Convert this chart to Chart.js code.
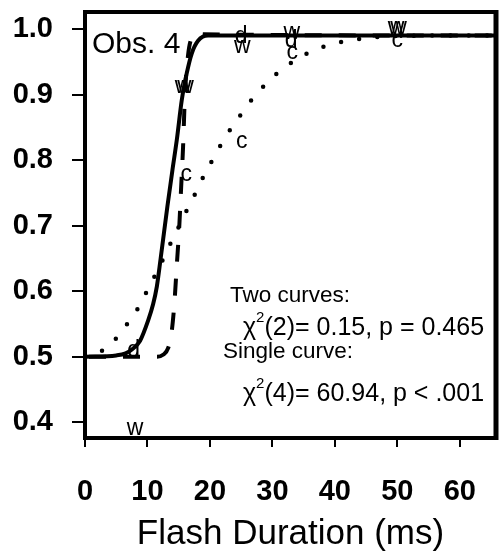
<!DOCTYPE html>
<html>
<head>
<meta charset="utf-8">
<script src="https://cdn.jsdelivr.net/npm/chart.js@4.4.0/dist/chart.umd.min.js"></script>
<style>
  html, body { margin: 0; padding: 0; background: #fff; }
  #wrap { width: 500px; height: 558px; }
</style>
</head>
<body>
<div id="wrap"><canvas id="obsChart"></canvas></div>
<script>
// tick values
const xTicks = [0, 10, 20, 30, 40, 50, 60];
const yTicks = [0.4, 0.5, 0.6, 0.7, 0.8, 0.9, 1.0];

// fitted curves as [ms, proportion]
const solidCurve = [[0, 0.500], [5, 0.502], [6.5, 0.505], [7.5, 0.511], [8.8, 0.524], [10.1, 0.555],
  [10.9, 0.580], [11.5, 0.607], [12.1, 0.649], [13.2, 0.730], [14.0, 0.785], [14.7, 0.831],
  [15.5, 0.892], [16.3, 0.933], [17.1, 0.963], [18.1, 0.982], [19.7, 0.990], [65.8, 0.990]];
const dashedCurve = [[0, 0.500], [11.5, 0.500], [12.5, 0.503], [13.3, 0.513], [13.9, 0.540],
  [14.3, 0.580], [14.7, 0.640], [15.1, 0.700], [15.4, 0.760], [15.7, 0.820], [16.0, 0.900],
  [16.5, 0.960], [17.0, 0.985], [17.8, 0.993], [19, 0.992], [65.8, 0.990]];
const dottedCurve = [[0, 0.500], [1.3, 0.502], [2.7, 0.509], [4.9, 0.527], [6.6, 0.548], [8.3, 0.571],
  [9.65, 0.595], [11.0, 0.620], [12.2, 0.643], [13.5, 0.669], [14.8, 0.694], [16.0, 0.718],
  [17.3, 0.742], [18.6, 0.768], [19.95, 0.792], [21.3, 0.816], [22.8, 0.840], [24.4, 0.862],
  [26.1, 0.885], [27.95, 0.906], [30.0, 0.926], [32.2, 0.943], [34.6, 0.958], [37.3, 0.970],
  [40.0, 0.978], [42.8, 0.983], [45.7, 0.987], [48.5, 0.989], [55, 0.990], [65.8, 0.990]];

// observed points, plotted as letters
const wPoints = [[8.0, 0.390], [15.7, 0.911], [16.1, 0.911], [25.2, 0.973], [33.1, 0.994], [49.8, 1.002], [50.2, 1.002]];
const cPoints = [[16.2, 0.778], [25.1, 0.827], [33.2, 0.964], [50.0, 0.981]];
const dPoints = [[7.8, 0.508], [25.0, 0.988], [33.0, 0.981]];

const panelLabel = 'Obs. 4';
const statLines = ['Two curves:', '(2)= 0.15, p = 0.465', 'Single curve:', '(4)= 60.94, p < .001'];

const toXY = arr => arr.map(p => ({ x: p[0], y: p[1] }));

const decorPlugin = {
    id: 'decor',
    afterDatasetsDraw(chart) {
        const ctx = chart.ctx;
        const xs = chart.scales.x, ys = chart.scales.y;
        const a = chart.chartArea;
        ctx.save();
        ctx.fillStyle = '#000';

        // letter markers
        ctx.font = '23px "Liberation Sans", Arial, sans-serif';
        ctx.textAlign = 'center';
        ctx.textBaseline = 'alphabetic';
        const groups = [['w', wPoints], ['c', cPoints], ['d', dPoints]];
        groups.forEach(g => {
            g[1].forEach(p => {
                ctx.fillText(g[0], xs.getPixelForValue(p[0]), ys.getPixelForValue(p[1]) + 6);
            });
        });

        // panel label
        ctx.textAlign = 'left';
        ctx.font = '30px "Liberation Sans", Arial, sans-serif';
        ctx.fillText(panelLabel, a.left + 7, a.top + 41);

        // fit statistics
        ctx.font = '22.5px "Liberation Sans", Arial, sans-serif';
        ctx.fillText(statLines[0], 230, 302);
        ctx.fillText(statLines[2], 223, 358);
        const chi = (txt, x, y) => {
            ctx.font = '25px "Liberation Sans", Arial, sans-serif';
            ctx.fillText('\u03c7', x, y);
            const w = ctx.measureText('\u03c7').width;
            ctx.font = '15px "Liberation Sans", Arial, sans-serif';
            ctx.fillText('2', x + w, y - 13);
            const w2 = ctx.measureText('2').width;
            ctx.font = '25px "Liberation Sans", Arial, sans-serif';
            ctx.fillText(txt, x + w + w2, y);
        };
        chi(statLines[1], 243, 335);
        chi(statLines[3], 243, 401);

        // frame
        ctx.strokeStyle = '#000';
        ctx.lineWidth = 4;
        ctx.strokeRect(a.left, a.top, a.right - a.left, a.bottom - a.top);
        ctx.lineWidth = 5;
        ctx.beginPath();
        ctx.moveTo(a.right, a.top - 2);
        ctx.lineTo(a.right, a.bottom + 2);
        ctx.stroke();
        ctx.restore();
    }
};

document.addEventListener('DOMContentLoaded', () => {
    const ctx = document.getElementById('obsChart').getContext('2d');
    new Chart(ctx, {
        type: 'scatter',
        data: {
            datasets: [
                {
                    label: 'solid', data: toXY(solidCurve), showLine: true, pointRadius: 0,
                    borderColor: '#000', borderWidth: 4, cubicInterpolationMode: 'monotone'
                },
                {
                    label: 'dashed', data: toXY(dashedCurve), showLine: true, pointRadius: 0,
                    borderColor: '#000', borderWidth: 4, borderDash: [17, 17], borderDashOffset: 30,
                    cubicInterpolationMode: 'monotone'
                },
                {
                    label: 'dotted', data: toXY(dottedCurve), showLine: true, pointRadius: 0,
                    borderColor: '#000', borderWidth: 4.5, borderDash: [0, 18.3], borderCapStyle: 'round',
                    cubicInterpolationMode: 'monotone'
                }
            ]
        },
        options: {
            responsive: true,
            maintainAspectRatio: false,
            animation: false,
            layout: { padding: { top: 12, right: 4, left: 0, bottom: 0 } },
            plugins: { legend: { display: false }, tooltip: { enabled: false } },
            scales: {
                x: {
                    type: 'linear', min: 0, max: 65.8,
                    afterFit: s => { s.height = 120; s.paddingLeft = 0; s.paddingRight = 0; },
                    afterBuildTicks: s => { s.ticks = xTicks.map(v => ({ value: v })); },
                    grid: { drawOnChartArea: false, drawTicks: true, tickLength: 9, color: '#000', lineWidth: 2 },
                    border: { display: false },
                    ticks: {
                        color: '#000', padding: 28, maxRotation: 0, autoSkip: false,
                        font: { family: 'Liberation Sans', size: 29, weight: 'bold' },
                        callback: v => String(v)
                    },
                    title: {
                        display: true, text: 'Flash Duration (ms)', color: '#000',
                        font: { family: 'Liberation Sans', size: 35 }, padding: { top: 0, bottom: 3 }
                    }
                },
                y: {
                    type: 'linear', min: 0.376, max: 1.026,
                    afterFit: s => { s.width = 85; s.paddingTop = 0; s.paddingBottom = 0; },
                    afterBuildTicks: s => { s.ticks = yTicks.map(v => ({ value: v })); },
                    grid: { drawOnChartArea: false, drawTicks: true, tickLength: 13, color: '#000', lineWidth: 2 },
                    border: { display: false },
                    ticks: {
                        color: '#000', padding: 19,
                        font: { family: 'Liberation Sans', size: 29, weight: 'bold' },
                        callback: v => v.toFixed(1)
                    }
                }
            }
        },
        plugins: [decorPlugin]
    });
});
</script>
</body>
</html>
